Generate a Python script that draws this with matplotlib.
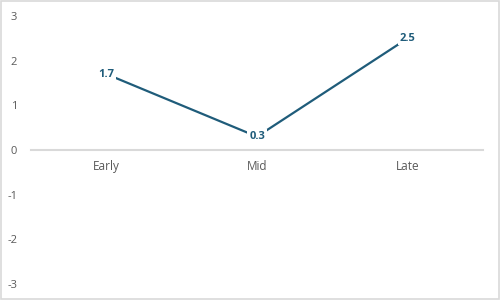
import matplotlib
matplotlib.use("Agg")
import matplotlib.pyplot as plt

# data
categories = ["Early", "Mid", "Late"]
values = [1.7, 0.3, 2.5]
y_ticks = [-3, -2, -1, 0, 1, 2, 3]

line_color = "#1F5C7A"
text_gray = "#595959"

plt.rcParams["font.family"] = ["Open Sans", "DejaVu Sans"]

fig = plt.figure(figsize=(5, 3), dpi=100)
ax = fig.add_axes([0.062, 0.0533, 0.904, 0.8934])

x = list(range(len(categories)))
ax.plot(x, values, color=line_color, lw=1.6, solid_capstyle="butt", zorder=2)

for xi, v in zip(x, values):
    ax.text(xi, v, f"{v:.1f}", ha="center", va="center", fontsize=8,
            fontweight="bold", color=line_color, zorder=3,
            bbox=dict(boxstyle="square,pad=0.15", fc="white", ec="none"))

ax.set_xlim(-0.5, len(categories) - 0.5)
ax.set_ylim(-3, 3)
ax.set_yticks(y_ticks)
ax.set_yticklabels([str(t) for t in y_ticks], color=text_gray, fontsize=8)
ax.tick_params(axis="y", length=0, pad=10)

# category axis sits on zero
ax.spines["bottom"].set_position(("data", 0))
ax.spines["bottom"].set_color("#D9D9D9")
ax.spines["bottom"].set_linewidth(1.5)
for s in ["top", "right", "left"]:
    ax.spines[s].set_visible(False)
ax.set_xticks(x)
ax.set_xticklabels(categories, color=text_gray, fontsize=8.5)
ax.tick_params(axis="x", length=0, pad=7)

# light border around the chart
fig.patches.append(plt.Rectangle((0.001, 0.002), 0.997, 0.995, transform=fig.transFigure,
                                 fill=False, ec="#D9D9D9", lw=1.2))

fig.savefig("out.png", dpi=100)
